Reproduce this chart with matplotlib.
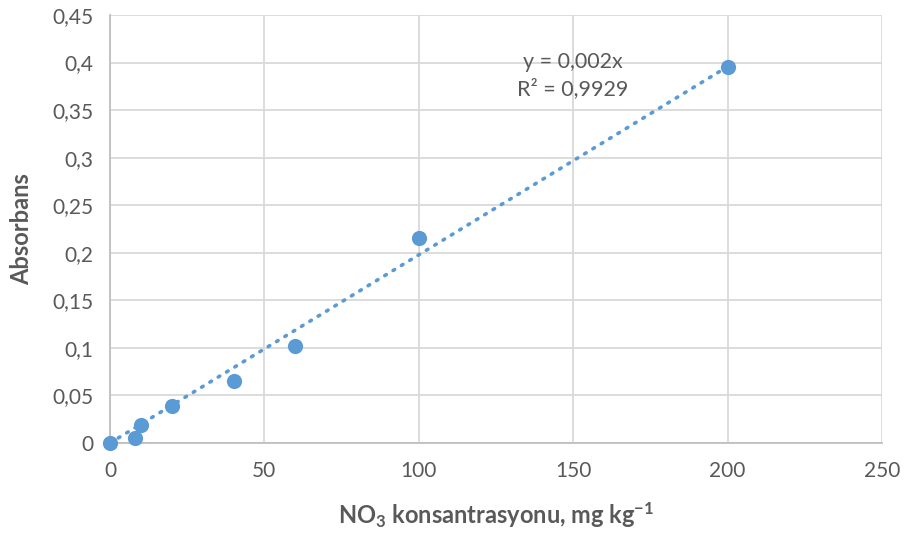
import matplotlib
matplotlib.use("Agg")
import matplotlib.pyplot as plt
import numpy as np
from matplotlib.ticker import FuncFormatter

conc = [0, 8, 10, 20, 40, 60, 100, 200]
absorb = [0.0, 0.005, 0.019, 0.039, 0.065, 0.102, 0.216, 0.395]
x_ticks = [0, 50, 100, 150, 200, 250]
y_ticks = [0, 0.05, 0.1, 0.15, 0.2, 0.25, 0.3, 0.35, 0.4, 0.45]

plt.rcParams['font.family'] = ['Lato', 'DejaVu Sans']
plt.rcParams['axes.unicode_minus'] = False
blue = '#5B9BD5'
grey = '#595959'

fig = plt.figure(figsize=(9.11, 5.39), dpi=100)
ax = fig.add_axes([110/911, 1-443/539, 772/911, 428/539])

x = np.array(conc, float); y = np.array(absorb, float)
b = (x*y).sum()/(x*x).sum()
xl = np.array([0, 200])
ax.plot(xl, b*xl, linestyle=(0, (0.5, 2.2)), color=blue, lw=2.6, dash_capstyle='round', zorder=2)
ax.scatter(conc, absorb, s=120, color=blue, zorder=3, clip_on=False, linewidths=0)

ax.set_xlim(0, 250)
ax.set_ylim(0, 0.45)
ax.set_xticks(x_ticks)
ax.set_yticks(y_ticks)
fmt = FuncFormatter(lambda v, p: ('%g' % round(v, 3)).replace('.', ','))
ax.xaxis.set_major_formatter(fmt)
ax.yaxis.set_major_formatter(fmt)
ax.grid(True, color='#D9D9D9', lw=1.3)
ax.set_axisbelow(True)
for s in ['top', 'right']:
    ax.spines[s].set_visible(False)
for s in ['left', 'bottom']:
    ax.spines[s].set_color('#BFBFBF'); ax.spines[s].set_linewidth(1.3)
ax.tick_params(length=0, labelsize=15, colors=grey)
ax.tick_params(axis='x', pad=13)
ax.tick_params(axis='y', pad=12)

ax.set_xlabel(r'NO$\mathregular{_3}$ konsantrasyonu, mg kg$\mathregular{^{-1}}$', fontsize=17, fontweight='bold', color=grey, labelpad=14)
ax.set_ylabel('Absorbans', fontsize=17, fontweight='bold', color=grey, labelpad=14)

ax.text(573/911, 1-62/539, 'y = 0,002x', transform=fig.transFigure, ha='center', va='center', fontsize=15.5, color=grey)
ax.text(573/911, 1-89/539, 'R² = 0,9929', transform=fig.transFigure, ha='center', va='center', fontsize=15.5, color=grey)

fig.savefig('out.png', dpi=100)
